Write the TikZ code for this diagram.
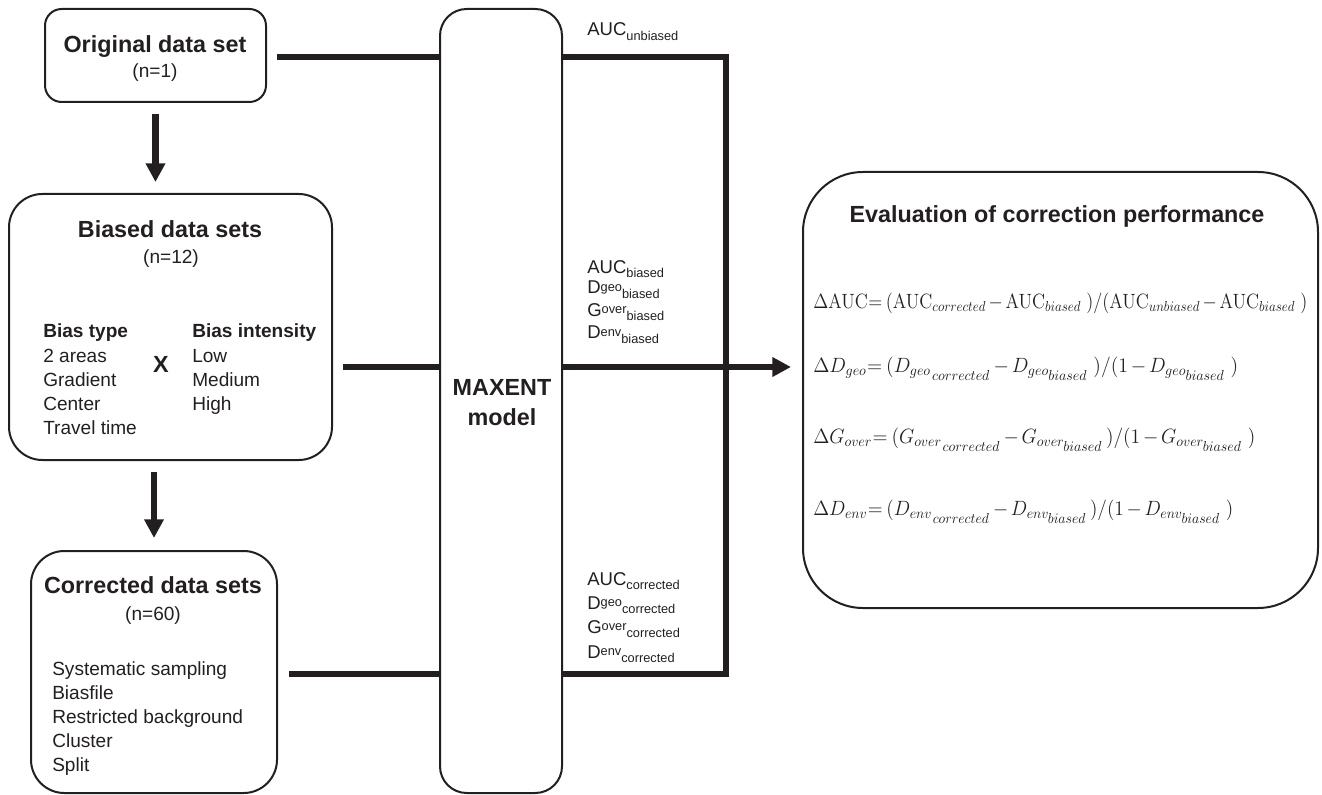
\documentclass[tikz,border=0pt]{standalone}
\usepackage{fix-cm}
\usepackage{graphicx}
\usepackage[no-math]{fontspec}
\setmainfont{Liberation Sans}
\usetikzlibrary{arrows.meta,calc}
\definecolor{ink}{HTML}{231F20}
\newcommand\lbldn[1]{\raisebox{-3.5pt}{\fontsize{9.6pt}{11pt}\selectfont #1}}
\newcommand\lblup[1]{\raisebox{1.8pt}{\fontsize{9.6pt}{11pt}\selectfont #1}}
\newcommand\eqfit[2]{\resizebox{#1}{\height}{$\medmuskip=2.5mu\thickmuskip=3.5mu #2$}}
\begin{document}
\begin{tikzpicture}[x=0.75pt,y=-0.75pt,
  every node/.style={text=ink},
  box/.style={draw=ink, line width=1.5pt, rounded corners=#1, inner sep=0pt},
  box/.default=20pt,
  conn/.style={draw=ink, line width=5pt},
  arr/.style={conn, -{Triangle[length=14pt,width=14pt]}},
  title/.style={font=\fontsize{17.5pt}{21pt}\selectfont\bfseries, inner sep=0pt, anchor=base},
  txt/.style={font=\fontsize{14.3pt}{17pt}\selectfont, inner sep=0pt, anchor=base west},
  btxt/.style={txt, font=\fontsize{14.3pt}{17pt}\selectfont\bfseries},
  lbl/.style={font=\fontsize{13.9pt}{16pt}\selectfont, inner sep=0pt, anchor=base west},
  eq/.style={font=\fontsize{15.5pt}{19pt}\selectfont, inner sep=0pt, anchor=base west}]
\useasboundingbox (0,0) rectangle (1322,795);

% boxes
\node[box=12.5pt, minimum width=165.75pt, minimum height=69.75pt] (orig) at (155.5,55.5) {};
\node[box=25pt, minimum width=242.25pt, minimum height=199.5pt] (biased) at (170.5,327) {};
\node[box=25pt, minimum width=184.5pt, minimum height=181.5pt] (corr) at (154,672) {};
\node[box=20pt, minimum width=91.5pt, minimum height=588pt] (maxent) at (501,401) {};
\node[box=45pt, minimum width=386.25pt, minimum height=327pt] (eval) at (1060.5,390) {};

% connector helper coordinates
\coordinate (ya) at (0,57);
\coordinate (yb) at (0,367);
\coordinate (yc) at (0,674);
\coordinate (tr) at (726,57);
\coordinate (br) at (726,674);

% connectors
\draw[conn] ([xshift=7.5pt]orig.east |- ya) -- (maxent.west |- ya);
\draw[conn] ([xshift=7.5pt]biased.east |- yb) -- (maxent.west |- yb);
\draw[conn] ([xshift=8.25pt]corr.east |- yc) -- (maxent.west |- yc);
\draw[conn, line join=miter] (maxent.east |- tr) -- (tr) -- (br) -- (maxent.east |- br);
\draw[arr] (maxent.east |- yb) -- ([xshift=-8.25pt]eval.west |- yb);
\draw[arr] ([yshift=-8.25pt]orig.south) -- ([yshift=8.25pt]orig.south |- biased.north);
\draw[arr] ([yshift=-8.25pt]corr.north |- biased.south) -- ([yshift=9pt]corr.north);

% original
\node[title] (origT) at (155,53) {Original data set};
\node[txt, anchor=base] (origN) at (155,78) {(n=1)};

% biased
\node[title] (biasT) at (170,238) {Biased data sets};
\node[txt, anchor=base] (biasN) at (171,263) {(n=12)};
\node[btxt] (btype) at (43,338) {Bias type};
\foreach \t [count=\i] in {2 areas, Gradient, Center, Travel time}
  \node[txt] (bt\i) at (43,338+24*\i) {\t};
\node[title] (bx) at (161,373) {X};
\node[btxt] (bint) at (192,338) {Bias intensity};
\foreach \t [count=\i] in {Low, Medium, High}
  \node[txt] (bi\i) at (192,338+24*\i) {\t};

% corrected
\node[title] (corrT) at (153,593) {Corrected data sets};
\node[txt, anchor=base] (corrN) at (153,620) {(n=60)};
\foreach \t [count=\i] in {Systematic sampling, Biasfile, Restricted background, Cluster, Split}
  \node[txt] (ct\i) at (52,651+24*\i) {\t};

% maxent
\node[title] (maxT) at (502,395) {MAXENT};
\node[title] (maxM) at (502,425) {model};

% labels
\node[lbl] (lu) at (587,36) {AUC\lbldn{unbiased}};
\node[lbl] (lb1) at (587,273) {AUC\lbldn{biased}};
\node[lbl] (lb2) at (587,294) {D\lblup{geo}\lbldn{biased}};
\node[lbl] (lb3) at (587,316) {G\lblup{over}\lbldn{biased}};
\node[lbl] (lb4) at (587,339) {D\lblup{env}\lbldn{biased}};
\node[lbl] (lc1) at (587,585) {AUC\lbldn{corrected}};
\node[lbl] (lc2) at (587,609) {D\lblup{geo}\lbldn{corrected}};
\node[lbl] (lc3) at (587,633) {G\lblup{over}\lbldn{corrected}};
\node[lbl] (lc4) at (587,658) {D\lblup{env}\lbldn{corrected}};

% evaluation
\node[title] (evT) at (1057,223) {Evaluation of correction performance};
\node[eq] (eq1) at (813,308) {\eqfit{370.5pt}{\Delta\mathrm{AUC}\!=(\mathrm{AUC}_{corrected}-\mathrm{AUC}_{biased}\ )/(\mathrm{AUC}_{unbiased}-\mathrm{AUC}_{biased}\ )}};
\node[eq] (eq2) at (813,372) {\eqfit{318.75pt}{\Delta D_{geo}\!=(D_{geo_{\,\scriptstyle corrected}}-D_{geo_{\scriptstyle biased}}\ )/(1-D_{geo_{\scriptstyle biased}}\ )}};
\node[eq] (eq3) at (813,443) {\eqfit{331.5pt}{\Delta G_{over}\!=(G_{over_{\,\scriptstyle corrected}}-G_{over_{\scriptstyle biased}}\,)/(1-G_{over_{\scriptstyle biased}}\ )}};
\node[eq] (eq4) at (813,515) {\eqfit{315pt}{\Delta D_{env}\!=(D_{env_{\,\scriptstyle corrected}}-D_{env_{\scriptstyle biased}}\,)/(1-D_{env_{\scriptstyle biased}}\ )}};
\end{tikzpicture}
\end{document}
